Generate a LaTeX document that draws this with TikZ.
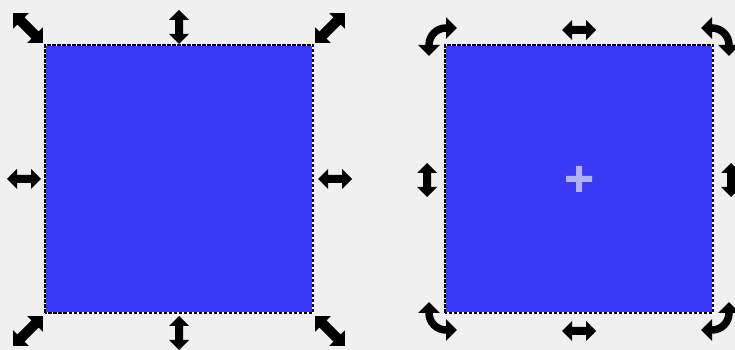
\documentclass[tikz,border=0pt]{standalone}
\usetikzlibrary{arrows.meta}
\definecolor{bg}{RGB}{240,240,240}
\definecolor{selblue}{RGB}{58,58,245}
\tikzset{
  dbl/.pic={\fill[black] (-17,0) -- (-7,10) -- (-7,4) -- (7,4) -- (7,10) -- (17,0) -- (7,-10) -- (7,-4) -- (-7,-4) -- (-7,-10) -- cycle;},
  dbld/.pic={\fill[black] (-21,0) -- (-10,11) -- (-10,5) -- (10,5) -- (10,11) -- (21,0) -- (10,-11) -- (10,-5) -- (-10,-5) -- (-10,-11) -- cycle;},
  rotarrow/.pic={\draw[black, line width=7.5pt, {Triangle[width=21pt,length=11pt]}-{Triangle[width=21pt,length=11pt]}] (-17,-11) -- (-17,0) arc (180:90:17) -- (11,17);},
  selborder/.style={line width=2.8pt},
}
\begin{document}
\begin{tikzpicture}[x=1pt,y=1pt]
\useasboundingbox (0,0) rectangle (735,350);
\fill[bg] (0,0) rectangle (735,350);
% squares
\fill[selblue] (45,37) rectangle (313,305);
\fill[selblue] (445,37) rectangle (713,305);
\draw[white, selborder] (45,37) rectangle (313,305);
\draw[black, selborder, dash pattern=on 3.5pt off 1.5pt] (45,37) rectangle (313,305);
\draw[white, selborder] (445,37) rectangle (713,305);
\draw[black, selborder, dash pattern=on 3.5pt off 1.5pt] (445,37) rectangle (713,305);
% scale handles
\pic[rotate=-45] at (28,322) {dbld};
\pic[rotate=45] at (330,322) {dbld};
\pic[rotate=45] at (28,19) {dbld};
\pic[rotate=-45] at (330,19) {dbld};
\pic[rotate=90] at (179,323) {dbl};
\pic[rotate=90] at (179,17) {dbl};
\pic at (24,171) {dbl};
\pic at (335,171) {dbl};
% skew handles
\pic at (579,320) {dbl};
\pic at (579,19) {dbl};
\pic[rotate=90] at (427,170) {dbl};
\pic[rotate=90] at (731,170) {dbl};
% rotate handles
\pic at (446,305) {rotarrow};
\pic[xscale=-1] at (712,305) {rotarrow};
\pic[yscale=-1] at (446,37) {rotarrow};
\pic[xscale=-1,yscale=-1] at (712,37) {rotarrow};
% center cross
\fill[white, opacity=0.6] (566,168) rectangle (592,174) (576,158) rectangle (582,184);
\end{tikzpicture}
\end{document}
